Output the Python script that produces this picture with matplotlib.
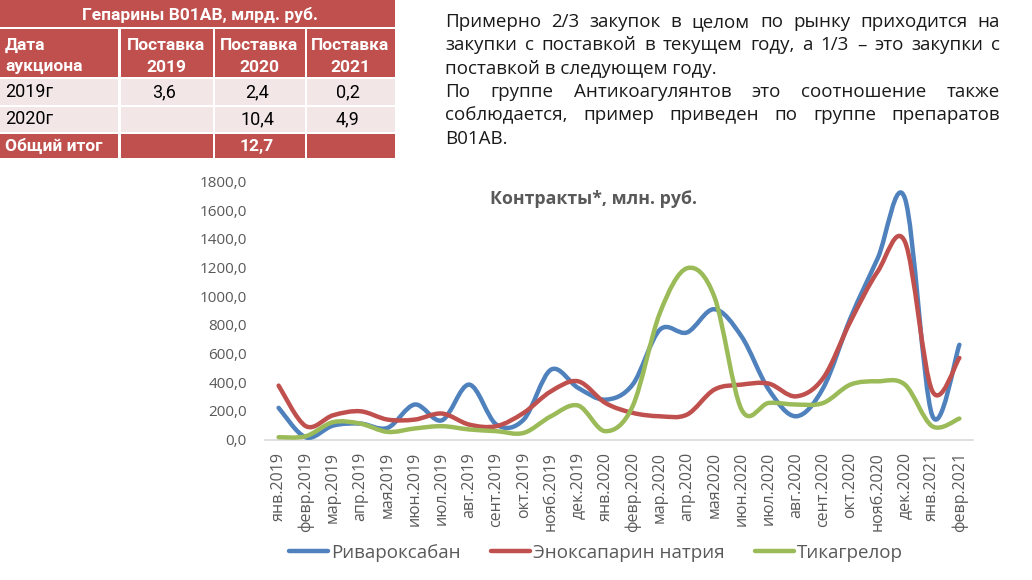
import numpy as np
import matplotlib
matplotlib.use("Agg")
import matplotlib.pyplot as plt
from matplotlib.path import Path
from matplotlib.patches import PathPatch, Rectangle
from matplotlib.lines import Line2D

plt.rcParams['font.family'] = ['Open Sans', 'DejaVu Sans']
table_font = ['Roboto', 'DejaVu Sans']

# --- data -------------------------------------------------------------
months = ["янв.2019", "февр.2019", "мар.2019", "апр.2019", "мая2019", "июн.2019",
          "июл.2019", "авг.2019", "сент.2019", "окт.2019", "нояб.2019", "дек.2019",
          "янв.2020", "февр.2020", "мар.2020", "апр.2020", "мая2020", "июн.2020",
          "июл.2020", "авг.2020", "сент.2020", "окт.2020", "нояб.2020", "дек.2020",
          "янв.2021", "февр.2021"]

rivaroxaban = [221, 15, 97, 111, 81, 244, 134, 383, 104, 139, 487, 360, 278,
               383, 766, 747, 909, 719, 348, 162, 360, 847, 1264, 1682, 170, 661]
enoxaparin = [376, 93, 169, 197, 139, 139, 181, 104, 93, 186, 336, 406, 255,
              186, 162, 174, 348, 383, 390, 301, 429, 824, 1172, 1380, 340, 569]
ticagrelor = [16, 23, 121, 111, 53, 77, 93, 70, 58, 46, 162, 237, 58,
              232, 882, 1195, 997, 209, 255, 244, 255, 383, 406, 383, 93, 146]

series_names = ["Ривароксабан", "Эноксапарин натрия", "Тикагрелор"]
series_colors = ["#4F81BD", "#C0504D", "#9BBB59"]
yticks = [0, 200, 400, 600, 800, 1000, 1200, 1400, 1600, 1800]

chart_title = "Контракты*, млн. руб."

table_title = "Гепарины B01AB, млрд. руб."
table_header = [("Дата", "аукциона"), ("Поставка", "2019"), ("Поставка", "2020"), ("Поставка", "2021")]
table_rows = ["2019г", "2020г"]
table_vals = [["3,6", "2,4", "0,2"],
              ["", "10,4", "4,9"]]
table_total_label = "Общий итог"
table_total = ["", "12,7", ""]

para_lines = [
    ("Примерно 2/3 закупок в целом по рынку приходится на", True),
    ("закупки с поставкой в текущем году, а 1/3 – это закупки с", True),
    ("поставкой в следующем году.", False),
    ("По группе Антикоагулянтов это соотношение также", True),
    ("соблюдается, пример приведен по группе препаратов", True),
    ("B01AB.", False),
]


def smooth_path(xs, ys):
    # Excel-like smoothed line: cubic Bezier through every point
    n = len(xs)
    verts = [(xs[0], ys[0])]
    codes = [Path.MOVETO]
    for i in range(n - 1):
        a = max(i - 1, 0)
        b = min(i + 2, n - 1)
        c1 = (xs[i] + (xs[i + 1] - xs[a]) / 6, ys[i] + (ys[i + 1] - ys[a]) / 6)
        c2 = (xs[i + 1] - (xs[b] - xs[i]) / 6, ys[i + 1] - (ys[b] - ys[i]) / 6)
        verts += [c1, c2, (xs[i + 1], ys[i + 1])]
        codes += [Path.CURVE4] * 3
    return Path(verts, codes)


W, H = 1032, 580
fig = plt.figure(figsize=(W / 100, H / 100), dpi=100)

# overlay in pixel coords for table / paragraph / title
ov = fig.add_axes([0, 0, 1, 1])
ov.set_xlim(0, W)
ov.set_ylim(H, 0)
ov.axis('off')

# --- chart ------------------------------------------------------------
ax = fig.add_axes([265 / W, (H - 439.5) / H, 708 / W, 258 / H])
x = np.arange(len(months))
for vals, col in zip([rivaroxaban, enoxaparin, ticagrelor], series_colors):
    p = PathPatch(smooth_path(x, np.array(vals, float)), fill=False, edgecolor=col,
                  lw=3.2, capstyle='round', joinstyle='round', clip_on=False, zorder=3)
    ax.add_patch(p)

ax.set_xlim(-0.5, len(months) - 0.5)
ax.set_ylim(0, 1800)
ax.set_yticks(yticks)
ax.set_yticklabels([f"{v:.1f}".replace('.', ',') for v in yticks])
ax.set_xticks(x)
ax.set_xticklabels(months, rotation=90)
ax.tick_params(axis='y', length=0, pad=13, labelsize=11, labelcolor='#595959')
ax.tick_params(axis='x', length=0, pad=9, labelsize=11.5, labelcolor='#595959')
for s in ['top', 'right', 'left']:
    ax.spines[s].set_visible(False)
ax.spines['bottom'].set_color('#D9D9D9')
ax.spines['bottom'].set_linewidth(1.2)
ax.patch.set_visible(False)

ov.text(593, 199, chart_title, ha='center', va='center', fontsize=12.8,
        fontweight='bold', color='#595959')

handles = [Line2D([], [], color=c, lw=3.2, solid_capstyle='round') for c in series_colors]
fig.legend(handles, series_names, loc='center', bbox_to_anchor=(596 / W, 1 - 553 / H),
           ncol=3, frameon=False, fontsize=13.5, handlelength=2.1, handletextpad=0.15,
           columnspacing=1.6, labelcolor='#595959')

# --- table ------------------------------------------------------------
red = '#C0504D'
pink = '#F2E7E6'
cols = [(0, 118), (121, 213), (215, 305), (307, 395)]
row_title = (0, 27)
row_head = (29, 77)
row_body = [(79, 105), (107, 132)]
row_tot = (134, 158)
fs_head = 12.5
fs_body = 13


def cell(c, r, color):
    ov.add_patch(Rectangle((c[0], r[0]), c[1] - c[0], r[1] - r[0], facecolor=color,
                           edgecolor='none'))


def ttext(xp, yp, s, ha='center', bold=True, color='white', fs=fs_head):
    ov.text(xp, yp, s, ha=ha, va='center', fontsize=fs, family=table_font,
            fontweight='bold' if bold else 'normal', color=color)


cell((0, 395), row_title, red)
ttext(200, 14.5, table_title)

val_x = [164, 257, 348]
for j, c in enumerate(cols):
    cell(c, row_head, red)
    top, bot = table_header[j]
    if j == 0:
        ttext(5, 45, top, ha='left')
        ttext(5, 67, bot, ha='left')
    else:
        cx = val_x[j - 1] + 2
        ttext(cx, 45, top)
        ttext(cx, 67, bot)

for i, r in enumerate(row_body):
    cy = (r[0] + r[1]) / 2
    for c in cols:
        cell(c, r, pink)
    ttext(5, cy, table_rows[i], ha='left', bold=False, color='black', fs=fs_body)
    for j, v in enumerate(table_vals[i]):
        ttext(val_x[j], cy, v, bold=False, color='black', fs=fs_body)

cy = (row_tot[0] + row_tot[1]) / 2
for c in cols:
    cell(c, row_tot, red)
ttext(5, cy, table_total_label, ha='left')
for j, v in enumerate(table_total):
    ttext(val_x[j], cy, v)

# --- justified paragraph ----------------------------------------------
renderer = fig.canvas.get_renderer()
px0, px1 = 445, 1000
line_y0, line_dy = 22, 23.3
fs_para = 13.5
for k, (line, justify) in enumerate(para_lines):
    y = line_y0 + k * line_dy
    if not justify:
        ov.text(px0, y, line, ha='left', va='center', fontsize=fs_para, color='#1a1a1a')
        continue
    words = line.split(' ')
    texts = [ov.text(0, y, w_, ha='left', va='center', fontsize=fs_para, color='#1a1a1a')
             for w_ in words]
    widths = [t.get_window_extent(renderer).width for t in texts]
    gap = (px1 - px0 - sum(widths)) / (len(words) - 1)
    cur = px0
    for t, wd in zip(texts, widths):
        t.set_x(cur)
        cur += wd + gap

fig.savefig("out.png", dpi=100)
